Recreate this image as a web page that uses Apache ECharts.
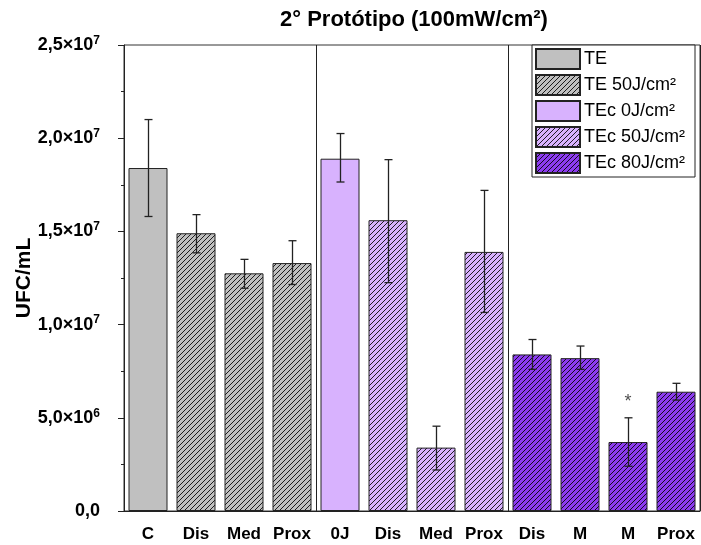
<!DOCTYPE html>
<html>
<head>
<meta charset="utf-8">
<script src="https://cdn.jsdelivr.net/npm/echarts@6/dist/echarts.min.js"></script>
<style>
  html, body { margin: 0; padding: 0; background: #fff; }
  #chart { width: 701px; height: 545px; }
</style>
</head>
<body>
<div id="chart"></div>
<script>
// values in units of 1e6 UFC/mL
const categories = ["C", "Dis", "Med", "Prox", "0J", "Dis", "Med", "Prox", "Dis", "M", "M", "Prox"];
const means = [18.4, 14.9, 12.75, 13.3, 18.9, 15.6, 3.4, 13.9, 8.4, 8.2, 3.7, 6.4];
const errLow = [15.8, 13.85, 11.95, 12.15, 17.65, 12.25, 2.2, 10.65, 7.6, 7.6, 2.4, 5.95];
const errHigh = [21.0, 15.9, 13.5, 14.5, 20.25, 18.85, 4.55, 17.2, 9.2, 8.85, 5.0, 6.85];
const groupOf = [0, 1, 1, 1, 2, 3, 3, 3, 4, 4, 4, 4];
const groupNames = ["TE", "TE 50J/cm²", "TEc 0J/cm²", "TEc 50J/cm²", "TEc 80J/cm²"];
const starIndex = 10;
const starValue = 5.85;

const FONT = "'Liberation Sans', Arial, sans-serif";
const SCALE = 1e6;

function hatch(bg) {
  const s = 5;
  const c = document.createElement("canvas");
  c.width = s;
  c.height = s;
  const ctx = c.getContext("2d");
  ctx.fillStyle = bg;
  ctx.fillRect(0, 0, s, s);
  ctx.fillStyle = "rgba(0,0,0,0.85)";
  for (let x = 0; x < s; x++) {
    ctx.fillRect(x, s - 1 - x, 1, 1);
  }
  return { image: c, repeat: "repeat" };
}

const fills = [
  "#c0c0c0",
  hatch("#c0c0c0"),
  "#d8b2fe",
  hatch("#d8b2fe"),
  hatch("#8c3cf0")
];

const barSeries = groupNames.map((name, g) => ({
  name: name,
  type: "bar",
  stack: "all",
  barWidth: 39,
  data: means.map((v, i) => (groupOf[i] === g ? v * SCALE : "-")),
  itemStyle: { color: fills[g], borderColor: "#222", borderWidth: 1 }
}));

const chart = echarts.init(document.getElementById("chart"), null, { renderer: "canvas" });

chart.setOption({
  animation: false,
  backgroundColor: "#fff",
  textStyle: { fontFamily: FONT },
  title: {
    text: "2° Protótipo (100mW/cm²)",
    left: 275,
    top: 4,
    textStyle: { fontFamily: FONT, fontSize: 22, fontWeight: "bold", color: "#000" }
  },
  legend: {
    orient: "vertical",
    left: 532,
    top: 45,
    icon: "rect",
    itemWidth: 44,
    itemHeight: 20,
    itemGap: 4,
    padding: [3, 10, 3, 3],
    borderColor: "#222",
    borderWidth: 1,
    backgroundColor: "#fff",
    data: groupNames,
    textStyle: { fontFamily: FONT, fontSize: 18, lineHeight: 20, color: "#000", padding: [0, 0, 0, -1] }
  },
  grid: {
    left: 124,
    right: 1,
    top: 45,
    bottom: 34,
    outerBoundsMode: "none",
    show: true,
    borderColor: "#333",
    borderWidth: 1
  },
  xAxis: [
    {
      type: "category",
      data: categories,
      axisLine: { lineStyle: { color: "#222", width: 1 } },
      axisTick: { alignWithLabel: true, length: 6, lineStyle: { color: "#222" } },
      axisLabel: {
        margin: 15,
        fontFamily: FONT,
        fontSize: 17,
        fontWeight: "bold",
        color: "#000",
        interval: 0
      },
      splitLine: {
        show: true,
        interval: (i) => i === 4 || i === 8,
        lineStyle: { color: "#222", width: 1 }
      }
    },
    {
      type: "category",
      data: categories,
      position: "bottom",
      axisLine: { show: false },
      axisTick: { length: 3, lineStyle: { color: "#222" } },
      axisLabel: { show: false },
      splitLine: { show: false }
    }
  ],
  yAxis: {
    type: "value",
    min: 0,
    max: 2.5e7,
    interval: 5e6,
    name: "UFC/mL",
    nameLocation: "middle",
    nameGap: 89,
    nameMoveOverlap: false,
    nameTextStyle: { fontFamily: FONT, fontSize: 21, fontWeight: "bold", color: "#000" },
    axisLine: { show: true, lineStyle: { color: "#222", width: 1 } },
    axisTick: { show: true, length: 6, lineStyle: { color: "#222" } },
    minorTick: { show: true, splitNumber: 2, length: 3, lineStyle: { color: "#222" } },
    splitLine: { show: false },
    axisLabel: {
      margin: 24,
      color: "#000",
      formatter: (v) => {
        if (v === 0) return "{m|0,0}";
        const e = Math.floor(Math.log10(v) + 1e-9);
        const m = (v / Math.pow(10, e)).toFixed(1).replace(".", ",");
        return "{m|" + m + "×10}{e|" + e + "}";
      },
      rich: {
        m: { fontFamily: FONT, fontSize: 18, fontWeight: "bold", color: "#000" },
        e: { fontFamily: FONT, fontSize: 12, fontWeight: "bold", color: "#000", padding: [0, 0, 9, 0] }
      }
    }
  },
  series: barSeries.concat([
    {
      type: "custom",
      name: "err",
      silent: true,
      z: 5,
      data: categories.map((c, i) => [i, errLow[i] * SCALE, errHigh[i] * SCALE]),
      encode: { x: 0, y: [1, 2] },
      renderItem: (params, api) => {
        const lo = api.coord([api.value(0), api.value(1)]);
        const hi = api.coord([api.value(0), api.value(2)]);
        const x = Math.round(lo[0]) + 0.5;
        const hw = 4;
        const style = { stroke: "#222", lineWidth: 1.3, fill: null };
        return {
          type: "group",
          children: [
            { type: "line", shape: { x1: x, y1: lo[1], x2: x, y2: hi[1] }, style: style },
            { type: "line", shape: { x1: x - hw, y1: lo[1], x2: x + hw, y2: lo[1] }, style: style },
            { type: "line", shape: { x1: x - hw, y1: hi[1], x2: x + hw, y2: hi[1] }, style: style }
          ]
        };
      }
    },
    {
      type: "scatter",
      name: "star",
      silent: true,
      symbolSize: 0,
      data: [[starIndex, starValue * SCALE]],
      label: {
        show: true,
        position: "inside",
        formatter: "*",
        fontFamily: FONT,
        fontSize: 18,
        color: "#222"
      }
    }
  ])
});
</script>
</body>
</html>
